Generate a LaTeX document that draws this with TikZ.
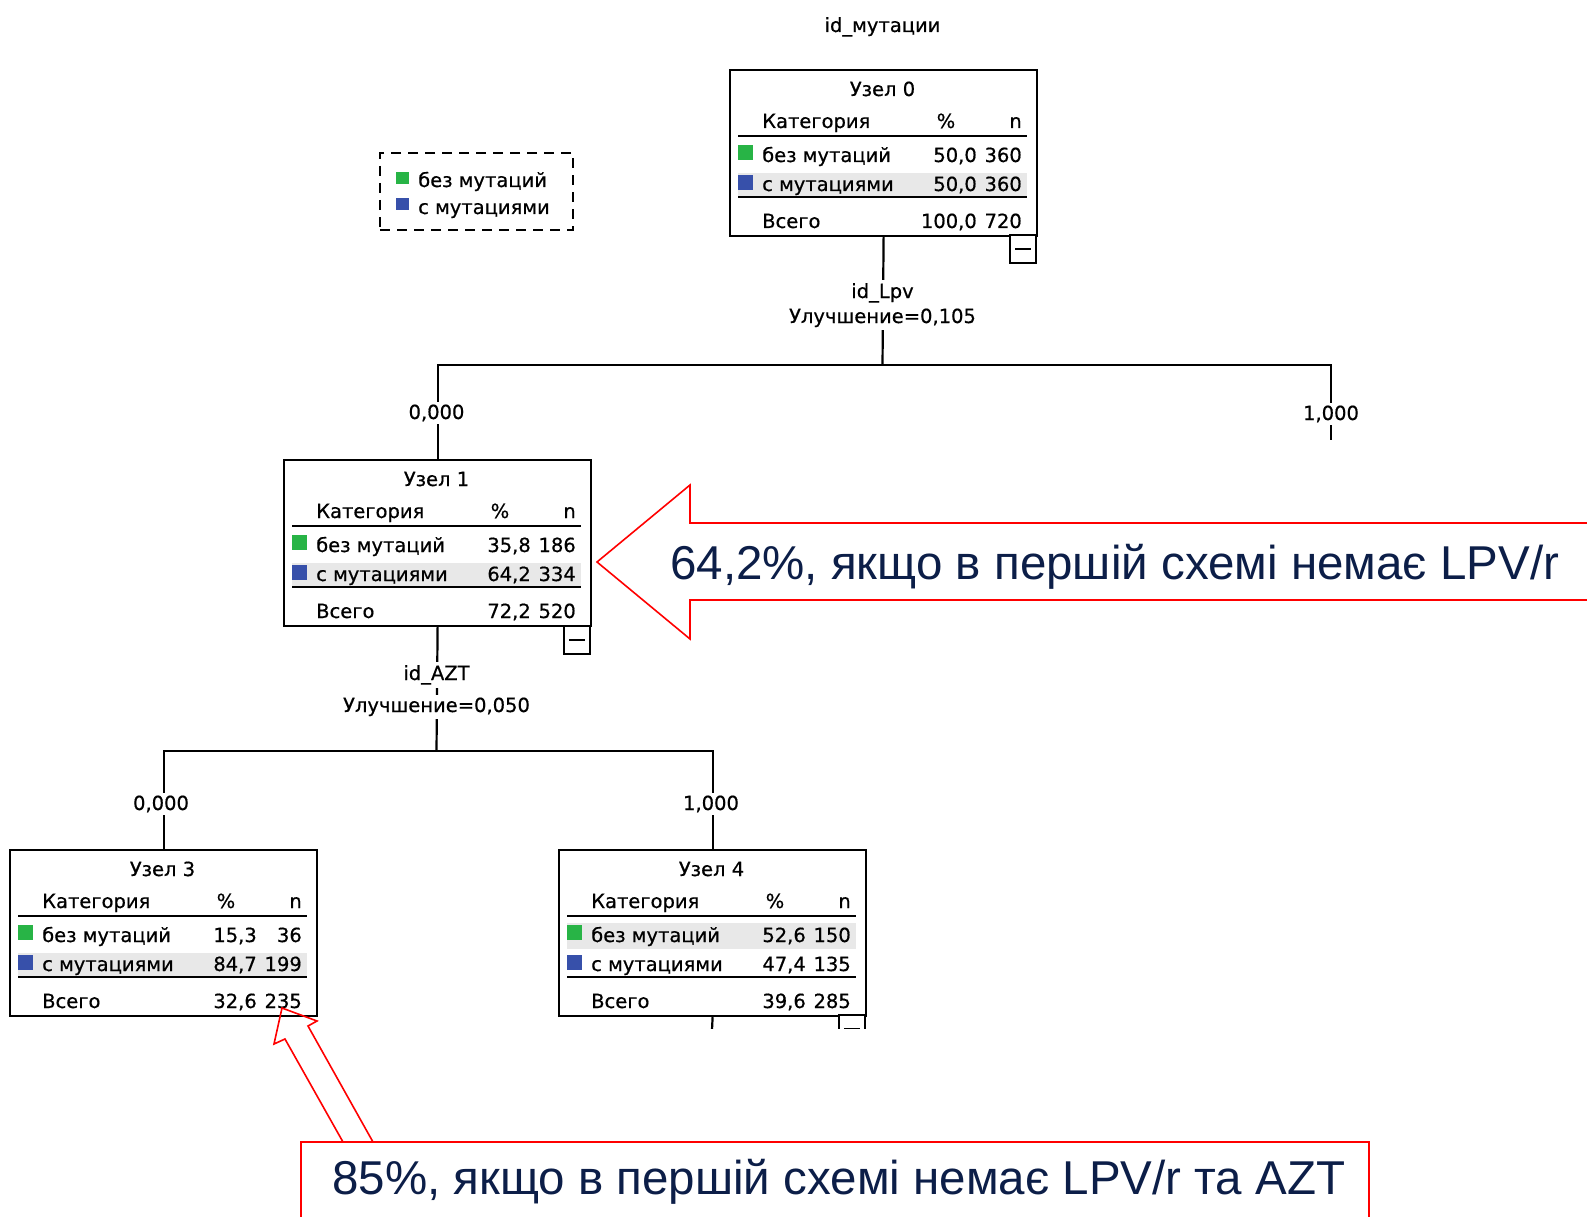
\documentclass[tikz,border=0pt]{standalone}
\usepackage{fontspec}
\newfontfamily\treefont[FakeBold=0.6]{DejaVu Sans}
\newfontfamily\callfont{Liberation Sans}
\definecolor{sqgreen}{RGB}{40,180,70}
\definecolor{sqblue}{RGB}{55,80,170}
\definecolor{hlgray}{RGB}{232,232,232}
\definecolor{calred}{RGB}{255,0,0}
\definecolor{navy}{RGB}{12,30,72}
\tikzset{
  tbox/.style={draw=black, line width=2.2pt, minimum width=307pt, minimum height=166pt, inner sep=0pt, anchor=north west},
  ttxt/.style={font=\treefont\fontsize{19.5}{22}\selectfont, inner sep=0pt},
  tlbl/.style={ttxt, fill=white, inner sep=3pt, anchor=base},
  conn/.style={line width=2.2pt},
  hline/.style={line width=2.4pt},
  minusbox/.style={draw=black, line width=2.2pt, minimum width=26pt, minimum height=28pt, inner sep=0pt, fill=white},
  legbox/.style={draw=black, line width=2.2pt, dash pattern=on 10pt off 7pt, minimum width=193pt, minimum height=77pt, inner sep=0pt},
  calloutline/.style={draw=calred, line width=1.6pt, line join=miter},
  ctext/.style={font=\callfont\fontsize{47.5}{56}\selectfont, text=navy, inner sep=0pt, anchor=base west}
}
\newcommand\TreeBox[9]{%
  \node[tbox] (#1) at (#2) {};
  \begin{scope}[shift={(#2)}]
    \node[ttxt, anchor=base] (#1t) at (153.5,27) {Узел #3};
    \node[ttxt, anchor=base west] (#1c) at (33,59) {Категория};
    \node[ttxt, anchor=base] (#1p) at (217,59) {\%};
    \node[ttxt, anchor=base east] (#1n) at (293,59) {n};
    \draw[hline] (9,67) -- (298,67);
    \fill[sqgreen] (9,76) rectangle (24,91);
    \node[ttxt, anchor=base west] (#1a) at (33,93) {без мутаций};
    \node[ttxt, anchor=base east] (#1ap) at (248,93) {#4};
    \node[ttxt, anchor=base east] (#1an) at (293,93) {#5};
    \fill[sqblue] (9,106) rectangle (24,121);
    \node[ttxt, anchor=base west] (#1b) at (33,122) {с мутациями};
    \node[ttxt, anchor=base east] (#1bp) at (248,122) {#6};
    \node[ttxt, anchor=base east] (#1bn) at (293,122) {#7};
    \draw[hline] (9,128) -- (298,128);
    \node[ttxt, anchor=base west] (#1s) at (33,159) {Всего};
    \node[ttxt, anchor=base east] (#1sp) at (248,159) {#8};
    \node[ttxt, anchor=base east] (#1sn) at (293,159) {#9};
  \end{scope}}
\newcommand\RowHL[3]{%
  \begin{scope}[shift={(#1)}]\fill[hlgray] (9,#2) rectangle (298,#3);\end{scope}}
\begin{document}
\begin{tikzpicture}[x=1pt,y=-1pt]
\useasboundingbox (0,0) rectangle (1587,1217);
\fill[white] (0,0) rectangle (1587,1217);

% title
\node[ttxt, anchor=base] (title) at (882.5,32) {id\_мутации};

% legend
\node[legbox] (leg) at (476.5,191.5) {};
\fill[sqgreen] (396,172) rectangle (409,184);
\node[ttxt, anchor=base west] (leg1) at (418,187) {без мутаций};
\fill[sqblue] (396,198) rectangle (409,210);
\node[ttxt, anchor=base west] (leg2) at (418,214) {с мутациями};

% highlights
\RowHL{729,69}{104}{127}
\RowHL{283,459}{104}{127}
\RowHL{9,849}{104}{127}
\RowHL{558,849}{74}{100}

% tree nodes
\TreeBox{n0}{729,69}{0}{50,0}{360}{50,0}{360}{100,0}{720}
\TreeBox{n1}{283,459}{1}{35,8}{186}{64,2}{334}{72,2}{520}
\TreeBox{n3}{9,849}{3}{15,3}{36}{84,7}{199}{32,6}{235}
\TreeBox{n4}{558,849}{4}{52,6}{150}{47,4}{135}{39,6}{285}

% connectors level 1
\coordinate (s0) at (882.5,365);
\coordinate (r0) at (1331,440);
\draw[conn] (n0.south) -- (s0);
\draw[conn] (n1.north) |- (s0) -| (r0);
\node[tlbl] (l0a) at (882.5,298) {id\_Lpv};
\node[tlbl] (l0b) at (882.5,323) {Улучшение=0,105};
\node[tlbl] (b0l) at (436.5,419) {0,000};
\node[tlbl] (b0r) at (1331,420) {1,000};

% connectors level 2
\coordinate (s1) at (436.5,751);
\draw[conn] (n1.south) -- (s1);
\draw[conn] (n3.north) |- (s1) -| (n4.north);
\node[tlbl] (l1a) at (436.5,680) {id\_AZT};
\node[tlbl] (l1b) at (436.5,712) {Улучшение=0,050};
\node[tlbl] (b1l) at (161,810) {0,000};
\node[tlbl] (b1r) at (711,810) {1,000};

% minus boxes
\node[minusbox] (m0) at (1023,249) {};
\draw[conn] ([xshift=-8pt]m0.center) -- ([xshift=8pt]m0.center);
\node[minusbox] (m1) at (577,640) {};
\draw[conn] ([xshift=-8pt]m1.center) -- ([xshift=8pt]m1.center);
\begin{scope}
  \clip (500,1000) rectangle (900,1028);
  \coordinate (c4) at (711.5,1040);
  \draw[conn] (n4.south) -- (c4);
  \node[minusbox] (m4) at (852,1029) {};
  \draw[conn] ([xshift=-8pt]m4.center) -- ([xshift=8pt]m4.center);
\end{scope}

% callout 1
\draw[calloutline] (1600,523) -- (690,523) -- (690,485) -- (597,562) -- (690,639) -- (690,600) -- (1600,600);
\node[ctext] (cal1) at (670,579) {64,2\%, якщо в першій схемі немає LPV/r};

% callout 2
\draw[calloutline] (343,1142) -- (285,1039) -- (274,1044) -- (282,1008) -- (317,1021) -- (308,1026) -- (373,1142);
\draw[calloutline] (301,1240) -- (301,1142) -- (1369,1142) -- (1369,1240);
\node[ctext] (cal2) at (332,1194) {85\%, якщо в першій схемі немає LPV/r та AZT};
\end{tikzpicture}
\end{document}
